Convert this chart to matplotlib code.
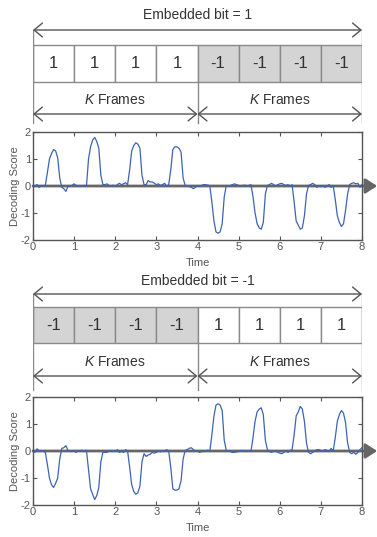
import numpy as np
import matplotlib
matplotlib.use('Agg')
import matplotlib.pyplot as plt
from matplotlib.patches import Rectangle

plt.rcParams['font.family'] = ['Liberation Sans', 'DejaVu Sans']
plt.rcParams['mathtext.fontset'] = 'custom'
plt.rcParams['mathtext.it'] = 'Liberation Sans:italic'
plt.rcParams['mathtext.rm'] = 'Liberation Sans'
plt.rcParams['axes.unicode_minus'] = False

# sample times, 0.05 apart
time = np.linspace(0, 8, 161)

# decoding score, embedded bit = 1 (one row per time unit)
score_top = [
    0.05, 0.0, 0.05, -0.05, 0.02, 0.0, 0.03, 0.5, 1.0, 1.2, 1.35, 1.3, 1.05, 0.3, -0.05, -0.1, -0.2, -0.02, 0.0, 0.02,
    0.08, 0.02, -0.02, 0.0, 0.0, 0.02, 0.0, 1.0, 1.45, 1.7, 1.8, 1.65, 1.4, 0.4, 0.05, 0.05, 0.08, 0.02, 0.0, 0.03,
    -0.02, 0.05, 0.1, 0.05, 0.08, 0.12, 0.05, 0.6, 1.3, 1.5, 1.6, 1.55, 1.4, 0.4, 0.05, 0.05, 0.2, 0.15, 0.15, 0.1,
    0.05, 0.08, 0.02, 0.05, 0.1, -0.02, 0.05, 0.6, 1.35, 1.45, 1.45, 1.4, 1.25, 0.3, 0.02, 0.0, -0.02, -0.05, -0.1, -0.05,
    0.02, -0.02, 0.02, 0.05, 0.05, 0.03, 0.0, -0.6, -1.3, -1.7, -1.75, -1.7, -1.4, -0.4, 0.02, 0.0, 0.02, 0.05, 0.08, 0.05,
    0.02, 0.0, 0.02, 0.03, 0.0, 0.02, 0.05, -0.4, -1.0, -1.4, -1.55, -1.6, -1.35, -0.3, 0.02, 0.05, 0.1, 0.05, 0.0, 0.05,
    0.08, 0.1, 0.05, 0.02, 0.05, 0.0, 0.05, -0.6, -1.3, -1.45, -1.6, -1.55, -1.1, -0.3, 0.02, 0.05, 0.1, 0.05, -0.05, 0.0,
    -0.03, 0.02, -0.05, 0.0, 0.05, -0.05, 0.02, -0.5, -1.1, -1.35, -1.5, -1.4, -0.9, -0.3, 0.05, 0.1, 0.12, 0.08, 0.1, -0.05,
    0.05,
]

# decoding score, embedded bit = -1
score_bottom = [
    0.0, -0.05, 0.08, 0.0, 0.02, 0.0, -0.05, -0.5, -1.0, -1.25, -1.35, -1.2, -1.0, -0.3, 0.1, 0.12, 0.2, 0.02, -0.02, 0.0,
    0.0, -0.05, 0.02, 0.0, 0.03, -0.02, 0.02, -0.7, -1.4, -1.6, -1.8, -1.65, -1.35, -0.4, -0.05, -0.05, -0.05, 0.0, 0.02, 0.0,
    -0.02, 0.05, -0.05, -0.02, -0.05, 0.05, 0.0, -0.6, -1.25, -1.5, -1.6, -1.55, -1.3, -0.4, -0.1, -0.2, -0.15, -0.12, -0.05, -0.08,
    -0.05, 0.0, -0.03, 0.02, 0.0, 0.05, 0.0, -0.6, -1.4, -1.45, -1.45, -1.4, -1.1, -0.3, 0.02, 0.05, 0.1, 0.12, 0.05, 0.0,
    0.0, -0.05, -0.02, -0.02, 0.0, 0.03, 0.0, 0.6, 1.3, 1.7, 1.75, 1.7, 1.5, 0.4, 0.02, 0.0, -0.02, -0.05, -0.05, -0.03,
    -0.02, 0.02, 0.0, 0.02, -0.02, 0.0, -0.02, 0.5, 1.1, 1.45, 1.55, 1.6, 1.35, 0.4, 0.05, -0.02, -0.05, -0.02, 0.0, -0.05,
    -0.08, -0.1, -0.05, 0.0, -0.05, 0.02, 0.05, 0.6, 1.3, 1.45, 1.65, 1.55, 1.1, 0.3, -0.05, -0.1, -0.05, 0.0, 0.05, 0.05,
    0.02, 0.0, 0.05, 0.02, -0.02, 0.1, 0.0, 0.5, 1.1, 1.35, 1.5, 1.4, 1.05, 0.3, -0.05, -0.1, -0.05, -0.12, -0.05, 0.05,
    0.12,
]

bits_top = [1, 1, 1, 1, -1, -1, -1, -1]
bits_bottom = [-1, -1, -1, -1, 1, 1, 1, 1]
xticks = [0, 1, 2, 3, 4, 5, 6, 7, 8]
yticks = [-2, -1, 0, 1, 2]

W, H = 377, 537
GREY = '#555555'


def px_axes(fig, top, bottom):
    # axes spanning the plot width, y given in figure pixels
    ax = fig.add_axes([33 / W, 1 - bottom / H, 329 / W, (bottom - top) / H])
    ax.set_xlim(0, 8)
    ax.set_ylim(bottom, top)
    ax.axis('off')
    return ax


def dbl_arrow(ax, x0, x1, y):
    ax.annotate('', xy=(x1, y), xytext=(x0, y),
                arrowprops=dict(arrowstyle='<->,head_length=0.6,head_width=0.5',
                                color=GREY, lw=1, shrinkA=0, shrinkB=0))


def draw_diagram(ax, title, bits, ys):
    y_title, y_arrow, box_top, box_bot, y_k, y_arrow2, y_end = ys
    ax.text(4, y_title, title, ha='center', va='center', fontsize=10, color='#333333')
    dbl_arrow(ax, 0, 8, y_arrow)
    for i, b in enumerate(bits):
        fc = '#d4d4d4' if b == -1 else 'white'
        ax.add_patch(Rectangle((i, box_top), 1, box_bot - box_top,
                               facecolor=fc, edgecolor='#8a8a8a', lw=1))
        ax.text(i + 0.5, (box_top + box_bot) / 2, str(b), ha='center', va='center',
                fontsize=12, color='#333333')
    ax.plot([0, 0], [y_arrow, y_end], color='#8a8a8a', lw=1)
    ax.plot([8, 8], [y_arrow, y_end], color='#8a8a8a', lw=1)
    ax.plot([4, 4], [box_bot, y_end], color='#8a8a8a', lw=1)
    for xc in (2, 6):
        ax.text(xc, y_k, '$K$ Frames', ha='center', va='center', fontsize=10, color='#333333')
    dbl_arrow(ax, 0, 4, y_arrow2)
    dbl_arrow(ax, 4, 8, y_arrow2)


def draw_scores(ax, scores):
    ax.plot(time, scores, color='#3d63b3', lw=0.9, zorder=3)
    ax.annotate('', xy=(8.37, 0), xytext=(0, 0),
                arrowprops=dict(arrowstyle='-|>,head_length=0.7,head_width=0.45',
                                color='#666666', lw=2, shrinkA=0, shrinkB=0),
                annotation_clip=False, zorder=2)
    ax.set_xlim(0, 8)
    ax.set_ylim(-2, 2)
    ax.set_xticks(xticks)
    ax.set_yticks(yticks)
    ax.tick_params(direction='in', top=True, right=True, length=3, width=0.8,
                   labelsize=8, colors=GREY, pad=1.5)
    for s in ax.spines.values():
        s.set_color(GREY)
        s.set_linewidth(1)
    ax.set_xlabel('Time', fontsize=8, color=GREY, labelpad=4)
    ax.set_ylabel('Decoding Score', fontsize=8, color=GREY, labelpad=1)


fig = plt.figure(figsize=(W / 100, H / 100), dpi=100)

ax_d1 = px_axes(fig, 0, 126)
draw_diagram(ax_d1, 'Embedded bit = 1', bits_top, (15, 30, 45, 82, 100, 114, 123))

ax_s1 = fig.add_axes([33 / W, 1 - 240 / H, 329 / W, 108 / H])
draw_scores(ax_s1, score_top)

ax_d2 = px_axes(fig, 265, 392)
draw_diagram(ax_d2, 'Embedded bit = -1', bits_bottom, (281, 294, 307, 343, 362, 376, 390))

ax_s2 = fig.add_axes([33 / W, 1 - 505 / H, 329 / W, 108 / H])
draw_scores(ax_s2, score_bottom)

fig.savefig('out.png', dpi=100)
